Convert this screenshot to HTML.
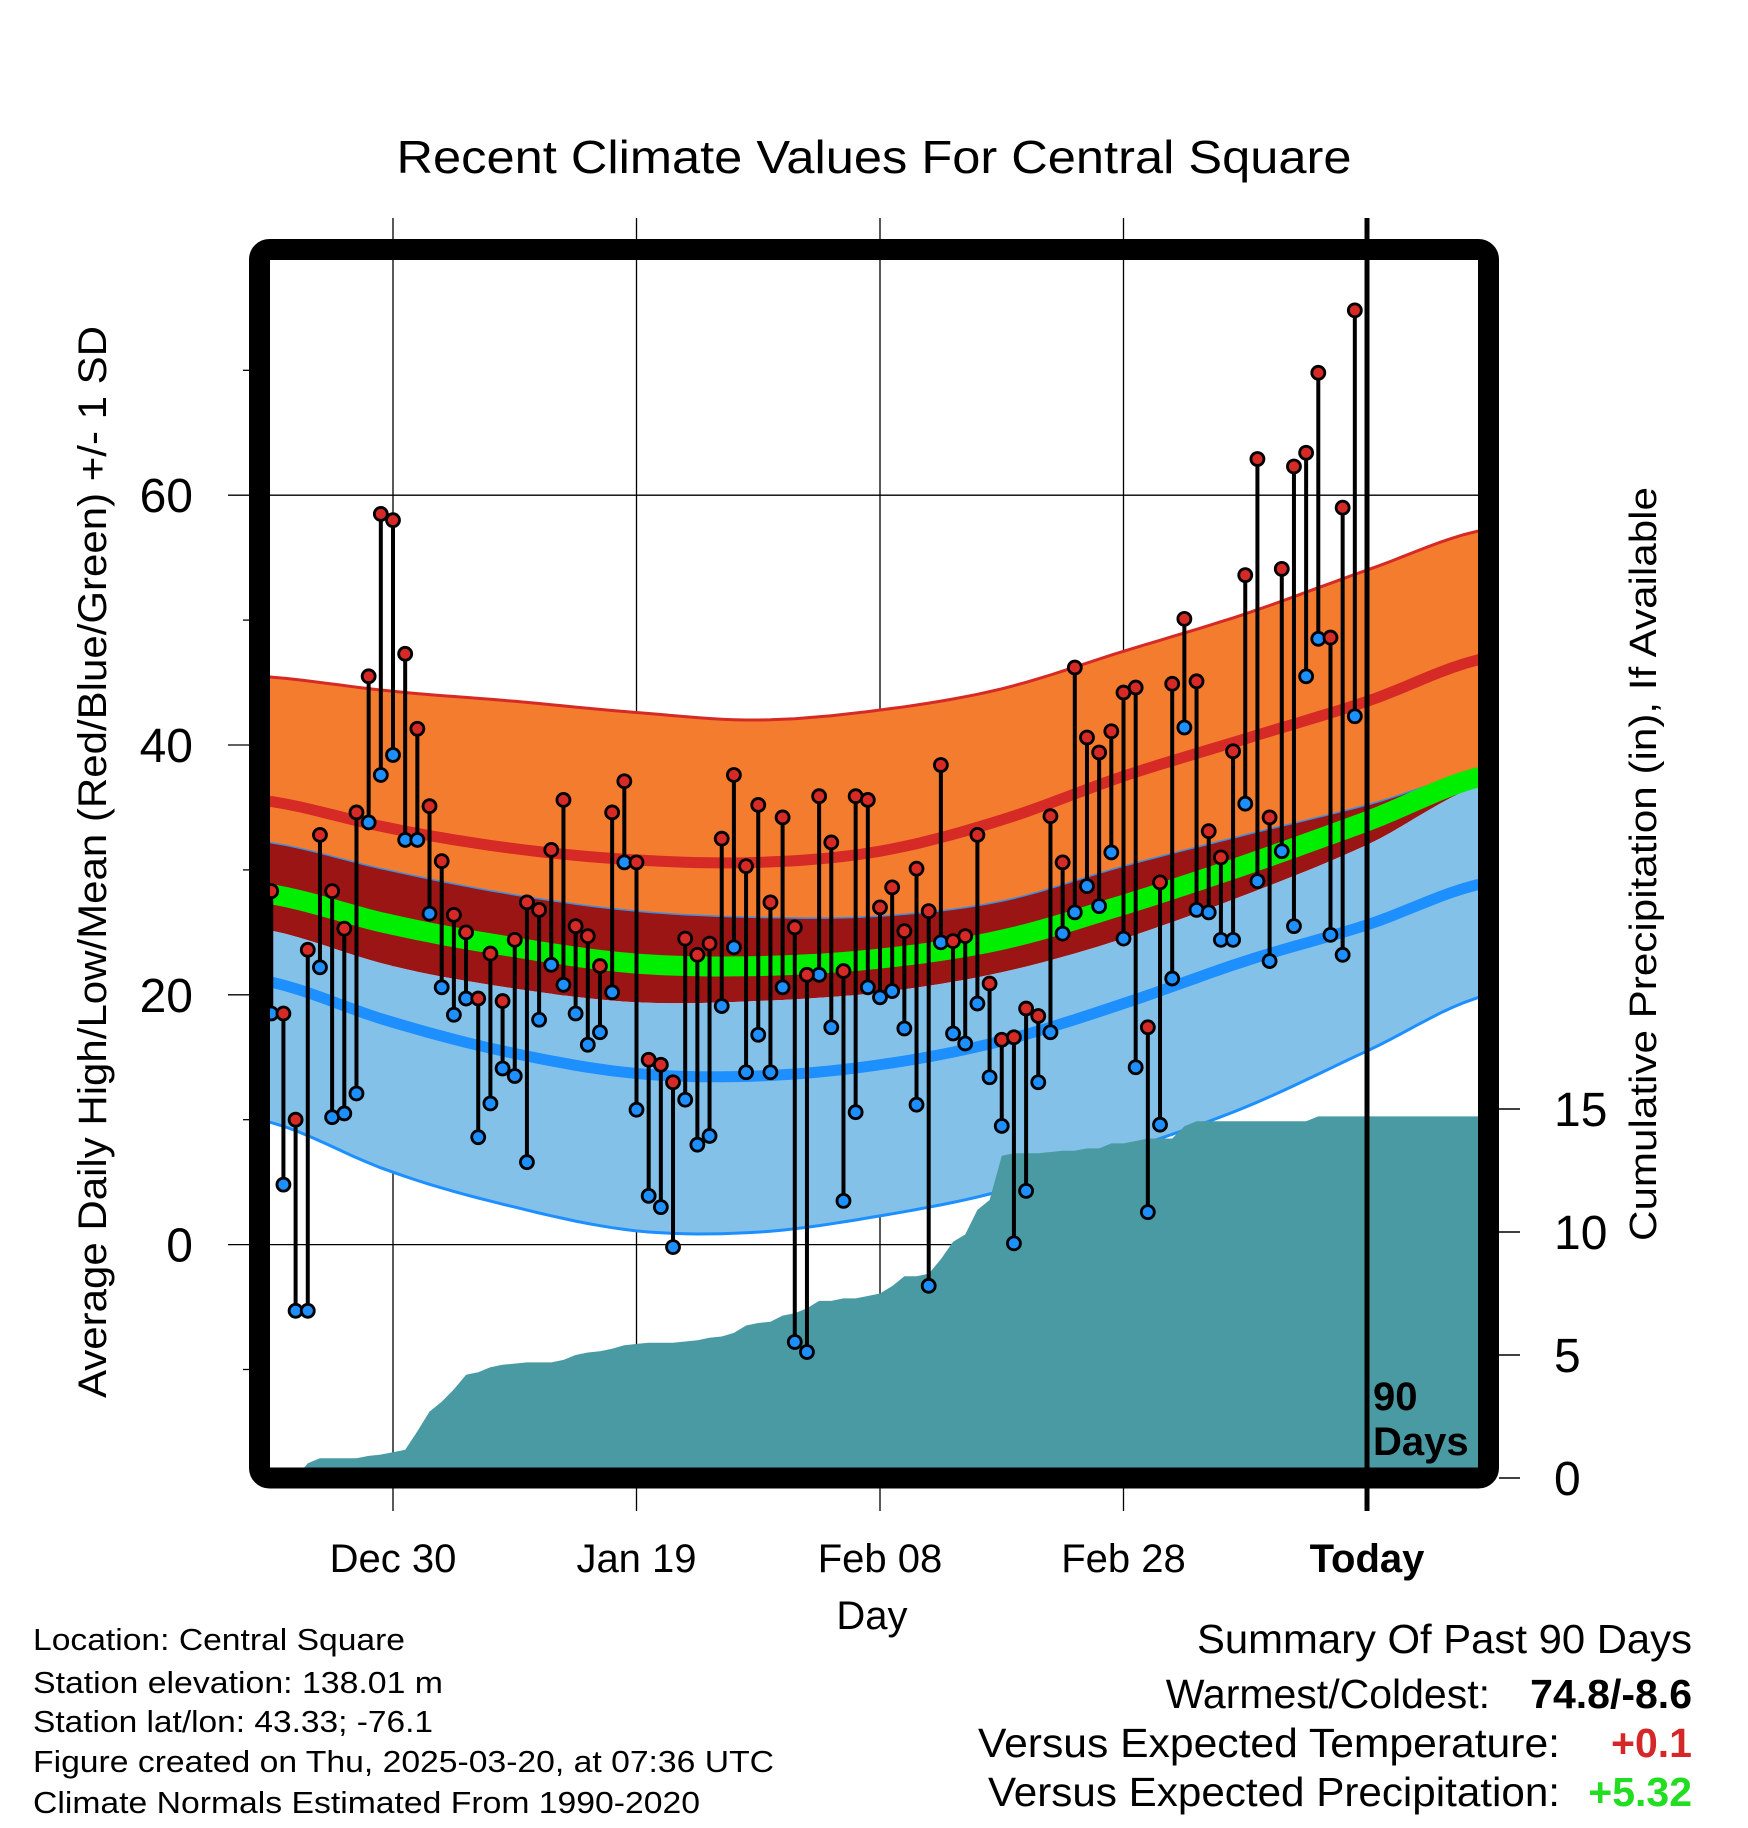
<!DOCTYPE html>
<html><head><meta charset="utf-8">
<style>
html,body{margin:0;padding:0;background:#fff;}
svg{display:block;font-family:"Liberation Sans",Arial,sans-serif;}
</style></head>
<body>
<svg id="chart" width="1748" height="1828" viewBox="0 0 1748 1828" xmlns="http://www.w3.org/2000/svg">
<defs><clipPath id="plotclip"><rect x="270" y="260" width="1208" height="1208"/></clipPath></defs>
<rect width="1748" height="1828" fill="#fff"/>
<text x="874" y="173" font-size="46" text-anchor="middle" textLength="955" lengthAdjust="spacingAndGlyphs">Recent Climate Values For Central Square</text>
<g id="grid"></g>
<g id="plot" clip-path="url(#plotclip)"></g>
<g id="marks"></g>
<g id="axes"></g>
<rect x="259.5" y="249.5" width="1229" height="1228.5" rx="10" fill="none" stroke="#000" stroke-width="21"/>
<g id="over"></g>
<text x="872" y="1629" font-size="40" text-anchor="middle">Day</text>
<text transform="translate(106,862) rotate(-90)" font-size="40" text-anchor="middle" textLength="1072" lengthAdjust="spacingAndGlyphs">Average Daily High/Low/Mean (Red/Blue/Green) +/- 1 SD</text>
<text transform="translate(1656,864) rotate(-90)" font-size="38" text-anchor="middle" textLength="754" lengthAdjust="spacingAndGlyphs">Cumulative Precipitation (in), If Available</text>
<g font-size="31">
<text x="33" y="1650" textLength="372" lengthAdjust="spacingAndGlyphs">Location: Central Square</text>
<text x="33" y="1693" textLength="410" lengthAdjust="spacingAndGlyphs">Station elevation: 138.01 m</text>
<text x="33" y="1732" textLength="400" lengthAdjust="spacingAndGlyphs">Station lat/lon: 43.33; -76.1</text>
<text x="33" y="1772" textLength="741" lengthAdjust="spacingAndGlyphs">Figure created on Thu, 2025-03-20, at 07:36 UTC</text>
<text x="33" y="1813" textLength="667" lengthAdjust="spacingAndGlyphs">Climate Normals Estimated From 1990-2020</text>
</g>
<g font-size="41">
<text x="1692" y="1653" text-anchor="end" textLength="495" lengthAdjust="spacingAndGlyphs">Summary Of Past 90 Days</text>
<text x="1490" y="1708" text-anchor="end">Warmest/Coldest:</text>
<text x="1692" y="1708" text-anchor="end" font-weight="bold">74.8/-8.6</text>
<text x="1560" y="1757" text-anchor="end" textLength="582" lengthAdjust="spacingAndGlyphs">Versus Expected Temperature:</text>
<text x="1692" y="1757" text-anchor="end" font-weight="bold" fill="#d62728">+0.1</text>
<text x="1560" y="1806" text-anchor="end" textLength="572" lengthAdjust="spacingAndGlyphs">Versus Expected Precipitation:</text>
<text x="1692" y="1806" text-anchor="end" font-weight="bold" fill="#22dd22">+5.32</text>
</g>
</svg>
<script>
// ---- data ----
const highs = [28.3,18.5,10,23.6,32.8,28.3,25.3,34.6,45.5,58.5,58,47.3,41.3,35.1,30.7,26.4,25,19.7,23.3,19.5,24.4,27.4,26.8,31.6,35.6,25.5,24.7,22.3,34.6,37.1,30.6,14.8,14.4,13,24.5,23.2,24.1,32.5,37.6,30.3,35.2,27.4,34.2,25.4,21.6,35.9,32.2,21.9,35.9,35.6,27,28.6,25.1,30.1,26.7,38.4,24.3,24.7,32.8,20.9,16.4,16.6,18.9,18.3,34.3,30.6,46.2,40.6,39.4,41.1,44.2,44.6,17.4,29,44.9,50.1,45.1,33.1,31,39.5,53.6,62.9,34.2,54.1,62.3,63.4,69.8,48.6,59,74.8];
const lows = [18.5,4.8,-5.3,-5.3,22.2,10.2,10.5,12.1,33.8,37.6,39.2,32.4,32.4,26.5,20.6,18.4,19.7,8.6,11.3,14.1,13.5,6.6,18,22.4,20.8,18.5,16,17,20.2,30.6,10.8,3.9,3,-0.2,11.6,8,8.7,19.1,23.8,13.8,16.8,13.8,20.6,-7.8,-8.6,21.6,17.4,3.5,10.6,20.6,19.8,20.3,17.3,11.2,-3.3,24.2,16.9,16.1,19.3,13.4,9.5,0.1,4.3,13,17,24.9,26.6,28.7,27.1,31.4,24.5,14.2,2.6,9.6,21.3,41.4,26.8,26.6,24.4,24.4,35.3,29.1,22.7,31.5,25.5,45.5,48.5,24.8,23.2,42.3];
const precip = [0,0,0,0.6,0.8,0.8,0.8,0.8,0.9,0.95,1.05,1.15,1.9,2.7,3.1,3.6,4.2,4.3,4.5,4.6,4.65,4.7,4.7,4.7,4.8,5.0,5.1,5.15,5.25,5.4,5.45,5.5,5.5,5.5,5.55,5.6,5.7,5.75,5.9,6.2,6.3,6.35,6.6,6.7,6.9,7.2,7.2,7.3,7.3,7.4,7.5,7.8,8.2,8.2,8.3,8.9,9.6,9.9,10.9,11.3,13.1,13.2,13.2,13.2,13.25,13.3,13.3,13.4,13.4,13.6,13.6,13.7,13.8,13.8,13.8,14.3,14.5,14.5,14.5,14.5,14.5,14.5,14.5,14.5,14.5,14.5,14.7,14.7,14.7,14.7];
const firstDay = -10; // days relative to Dec 30
const normDays = [-11,0,10,20,30,40,50,60,70,80,90];
const highPlusSD = [45.5,44.3,43.5,42.6,42.0,42.8,44.5,47.5,50.5,54,57.3];
const highMean = [35.6,33.3,31.7,30.8,30.6,31.5,34,37.5,40.5,43.5,47];
const highMinusSD = [32.3,29.9,28.0,26.7,26.2,26.3,27.5,30.3,32.8,35.2,38];
const meanTemp = [28.2,25.6,23.8,22.5,22.3,22.9,24.4,27.2,30.4,33.9,37.6];
const lowPlusSD = [25.3,22.3,20.5,19.4,19.5,20.2,21.8,24.5,28,32,37];
const lowMean = [21.2,17.8,15.3,13.7,13.5,14.4,16.3,19.3,22.7,25.6,29];
const lowMinusSD = [10,5.8,3,1.1,1.0,2.3,4.3,7.5,11,15.5,20];
const xTickDays = [0,20,40,60,80];
const xTickLabels = ["Dec 30","Jan 19","Feb 08","Feb 28","Today"];
const yTicks = [0,20,40,60];
const yMinor = [-10,10,30,50,70];
const pTicks = [0,5,10,15];

// ---- scales ----
const X = d => 393 + d*12.175;
const Y = t => 1244.6 - t*12.49;
const P = p => 1478 - p*24.6;
const NS = "http://www.w3.org/2000/svg";
function mk(parent, tag, attrs){const e=document.createElementNS(NS,tag);for(const k in attrs)e.setAttribute(k,attrs[k]);document.getElementById(parent).appendChild(e);return e;}

function curve(vals){
  const pts=[];
  for(let i=0;i<normDays.length-1;i++){
    const p0=vals[Math.max(i-1,0)],p1=vals[i],p2=vals[i+1],p3=vals[Math.min(i+2,vals.length-1)];
    const d1=normDays[i],d2=normDays[i+1];
    for(let s=0;s<10;s++){const t=s/10;
      const v=0.5*((2*p1)+(-p0+p2)*t+(2*p0-5*p1+4*p2-p3)*t*t+(-p0+3*p1-3*p2+p3)*t*t*t);
      pts.push([X(d1+(d2-d1)*t),Y(v)]);}
  }
  pts.push([X(normDays[normDays.length-1]),Y(vals[vals.length-1])]);
  return pts;
}
const ptsStr = a => a.map(p=>p[0].toFixed(1)+","+p[1].toFixed(1)).join(" L");
function band(top,bot){const a=curve(top),b=curve(bot).reverse();return "M"+ptsStr(a)+" L"+ptsStr(b)+"Z";}

xTickDays.forEach((d,i)=>{
  const l=mk('grid','line',{x1:X(d),x2:X(d),y1:218,y2:1511,stroke:'#000','stroke-width':1.3});
  
  
  const t=mk('axes','text',{x:X(d),y:1572,'font-size':40,'text-anchor':'middle','font-weight':i===4?'bold':'normal'});
  
  
  t.textContent=xTickLabels[i];
});
yTicks.forEach(v=>{
  const l=mk('grid','line',{x1:228,x2:1488,y1:Y(v),y2:Y(v),stroke:'#000','stroke-width':1.3});
  
  
  const t=mk('axes','text',{x:193,y:Y(v)+17,'font-size':48,'text-anchor':'end'});
  
  
  t.textContent=v;
});
yMinor.forEach(v=>{
  const l=mk('axes','line',{x1:243,x2:250,y1:Y(v),y2:Y(v),stroke:'#000','stroke-width':1.3});
  
  
});
pTicks.forEach(v=>{
  const l=mk('axes','line',{x1:1499,x2:1520,y1:P(v),y2:P(v),stroke:'#000','stroke-width':1.5});
  
  
  const t=mk('axes','text',{x:1554,y:P(v)+17,'font-size':48});
  
  
  t.textContent=v;
});

let e;
e=mk('plot','path',{d:band(highMinusSD,lowPlusSD),fill:'#9c1515'});
 
e=mk('plot','path',{d:band(highPlusSD,highMinusSD),fill:'#f47c2f'});
 
e=mk('plot','path',{d:"M"+ptsStr(curve(highPlusSD)),fill:'none',stroke:'#d52a25','stroke-width':3});
 
e=mk('plot','path',{d:"M"+ptsStr(curve(highMean)),fill:'none',stroke:'#d52a25','stroke-width':11});
 
e=mk('plot','path',{d:band(lowPlusSD,lowMinusSD),fill:'#84c1e8'});
 
e=mk('plot','path',{d:"M"+ptsStr(curve(highMinusSD)),fill:'none',stroke:'#3a8fe0','stroke-width':1.5});
 
e=mk('plot','path',{d:"M"+ptsStr(curve(meanTemp)),fill:'none',stroke:'#00ee00','stroke-width':20});
 
e=mk('plot','path',{d:"M"+ptsStr(curve(lowMean)),fill:'none',stroke:'#1e8fff','stroke-width':11});
 
e=mk('plot','path',{d:"M"+ptsStr(curve(lowMinusSD)),fill:'none',stroke:'#1e8fff','stroke-width':3});
 

let pd="M"+X(firstDay)+","+P(0);
precip.forEach((v,i)=>{pd+=" L"+X(firstDay+i).toFixed(1)+","+P(v).toFixed(1);});
pd+=" L1490,"+P(precip[precip.length-1]).toFixed(1)+" L1490,"+P(0)+"Z";
e=mk('plot','path',{d:pd,fill:'#4a9aa4'});
 

highs.forEach((h,i)=>{
  const x=X(firstDay+i);
  const l=mk('marks','line',{x1:x,x2:x,y1:Y(h),y2:Y(lows[i]),stroke:'#000','stroke-width':4});
  
  
});
lows.forEach((v,i)=>{
  const c=mk('marks','circle',{cx:X(firstDay+i),cy:Y(v),r:6.5,fill:'#1e8fff',stroke:'#000','stroke-width':2.8});
  
  
});
highs.forEach((v,i)=>{
  const c=mk('marks','circle',{cx:X(firstDay+i),cy:Y(v),r:6.5,fill:'#d52a25',stroke:'#000','stroke-width':2.8});
  
  
});

e=mk('over','line',{x1:X(80),x2:X(80),y1:218,y2:1511,stroke:'#000','stroke-width':5});
 
e=mk('over','text',{x:1373,y:1410,'font-size':40,'font-weight':'bold'});
 
e.textContent='90';
e=mk('over','text',{x:1373,y:1455,'font-size':40,'font-weight':'bold'});
 
e.textContent='Days';
</script>
</body></html>
